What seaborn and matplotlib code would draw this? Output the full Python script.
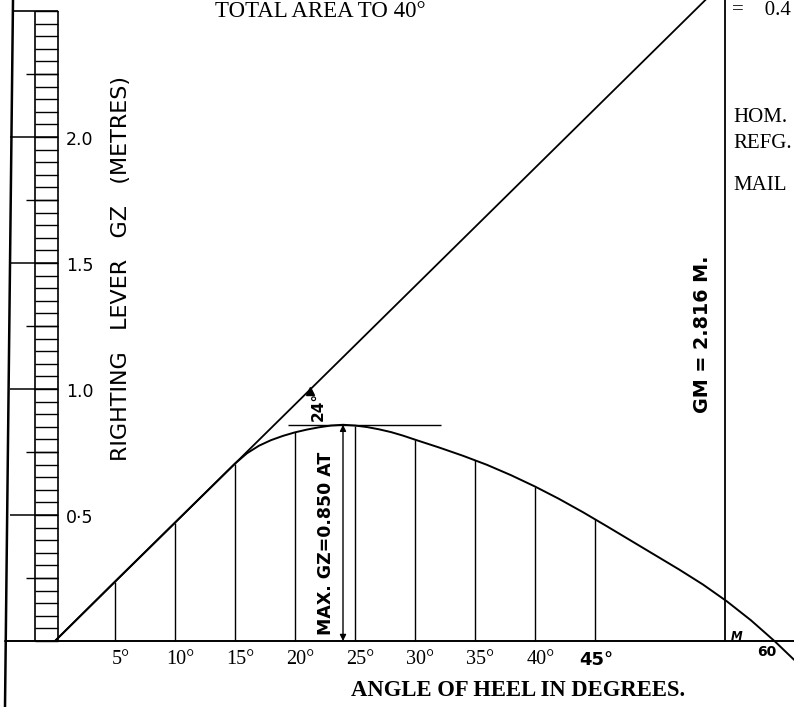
import numpy as np
import pandas as pd
import matplotlib
matplotlib.use("Agg")
import matplotlib.pyplot as plt
import seaborn as sns
from matplotlib import font_manager

# ---------------- data ----------------
heel_angles = [0, 5, 10, 15, 16, 17, 18, 19, 20, 21, 22, 23, 24, 25, 26, 27,
               28, 29, 30, 32, 34, 36, 38, 40, 42, 44, 46, 48, 50, 52, 54, 56,
               58, 60, 61.6]
gz_values = [0.0, 0.236, 0.470, 0.704, 0.745, 0.775, 0.797, 0.814, 0.828,
             0.839, 0.848, 0.855, 0.858, 0.855, 0.849, 0.840, 0.829, 0.815,
             0.799, 0.768, 0.735, 0.699, 0.658, 0.613, 0.564, 0.511, 0.455,
             0.398, 0.341, 0.284, 0.224, 0.157, 0.082, -0.002, -0.075]

ordinate_angles = [5, 10, 15, 20, 25, 30, 35, 40, 45]
ordinate_gz = [0.236, 0.470, 0.704, 0.828, 0.855, 0.799, 0.717, 0.613, 0.483]

tangent_angles = [0, 60]
tangent_gz = [0.0, 2.816]

gm_angle = 55.8          # ordinate "M" carrying GM
max_angle = 24
max_gz = 0.858
max_line_angles = [19.4, 32.2]

xtick_values = [5, 10, 15, 20, 25, 30, 35, 40]
xtick_labels = ["5°", "10°", "15°", "20°", "25°", "30°", "35°", "40°"]
ytick_values = [0.5, 1.0, 1.5, 2.0]
ytick_labels = ["0·5", "1.0", "1.5", "2.0"]
scale_top = 2.5

# ---------------- figure ----------------
sns.set_theme(style="white")
names = {f.name for f in font_manager.fontManager.ttflist}
narrow = "Liberation Sans Narrow" if "Liberation Sans Narrow" in names else "DejaVu Sans"
plt.rcParams["font.family"] = ["DejaVu Sans"]

W, H = 794, 707
fig = plt.figure(figsize=(W / 100, H / 100), dpi=100)
fig.patch.set_facecolor("white")
ax = fig.add_axes([0, 0, 1, 1])
ax.set_facecolor("white")
X0, PXD, Y0, PYM = 55, 12.0, 641, 252.0
ax.set_xlim(-X0 / PXD, (W - X0) / PXD)
ax.set_ylim(-(H - Y0) / PYM, Y0 / PYM)
ax.axis("off")


def px(x):
    return (x - X0) / PXD


def py(y):
    return (Y0 - y) / PYM


K = "black"
curve = pd.DataFrame({"angle": heel_angles, "gz": gz_values})
tang = pd.DataFrame({"angle": tangent_angles, "gz": tangent_gz})
sns.lineplot(data=curve, x="angle", y="gz", ax=ax, color=K, lw=1.4,
             estimator=None, sort=False)
sns.lineplot(data=tang, x="angle", y="gz", ax=ax, color=K, lw=1.3,
             estimator=None, sort=False)

# ordinates
ax.vlines(ordinate_angles, 0, ordinate_gz, color=K, lw=1.0)
# GM ordinate to top
ax.vlines([gm_angle], 0, py(0), color=K, lw=1.3)
# horizontal tangent at maximum
ax.hlines([max_gz], max_line_angles[0], max_line_angles[1], color=K, lw=1.0)
# arrow for max GZ
ax.annotate("", xy=(max_angle, max_gz), xytext=(max_angle, 0),
            arrowprops=dict(arrowstyle="<|-|>", color=K, lw=1.0,
                            mutation_scale=9, shrinkA=0, shrinkB=0))
ax.plot([px(310)], [py(391)], marker="^", ms=6, color=K)

# baseline and left border
ax.plot([px(5), px(W)], [0, 0], color=K, lw=1.4)
ax.plot([px(13), px(5)], [py(0), py(H)], color=K, lw=1.8)

# vertical scale (ladder)
lx, rx = px(35), px(58)
rungs = np.arange(0, scale_top + 1e-6, 0.05)
ax.hlines(rungs, lx, rx, color=K, lw=1.0)
ax.vlines([lx, rx], 0, scale_top, color=K, lw=1.2)
ax.hlines([scale_top], px(12), rx, color=K, lw=1.2)
ax.hlines(ytick_values, px(10), rx, color=K, lw=1.1)
ax.hlines(np.array(ytick_values) - 0.25, px(26), rx, color=K, lw=1.0)
ax.hlines([scale_top - 0.25], px(26), rx, color=K, lw=1.0)

for v, lab in zip(ytick_values, ytick_labels):
    ax.text(px(66), v - 0.01, lab, fontsize=12.5, ha="left", va="center",
            color=K, fontweight="medium")

serif = ["Liberation Serif", "DejaVu Serif"]
for v, lab in zip(xtick_values, xtick_labels):
    ax.text(v + 0.45, py(659), lab, fontsize=14.5, ha="center", va="center",
            family=serif, color=K)
ax.text(45 + 0.1, py(660), "45°", fontsize=13, ha="center", va="center",
        fontweight="bold", color=K)
ax.text(px(767), py(652), "60", fontsize=10, ha="center", va="center",
        fontweight="bold", color=K)
ax.text(px(737), py(636), "M", fontsize=8.5, ha="center", va="center",
        style="italic", fontweight="bold", color=K)

ax.text(px(518), py(690), "ANGLE OF HEEL IN DEGREES.", fontsize=16.3,
        ha="center", va="center", family=serif, fontweight="bold", color=K)
ax.text(px(215), py(11.5), "TOTAL AREA TO 40°", fontsize=16.5, ha="left",
        va="center", family=serif, color=K)
ax.text(px(732), py(11), "=    0.4", fontsize=15, ha="left", va="center",
        family=serif, color=K)
for lab, yy in [("HOM.", 118), ("REFG.", 144), ("MAIL", 186)]:
    ax.text(px(733), py(yy), lab, fontsize=15, ha="left", va="center",
            family=serif, color=K)

ax.text(px(121), py(269), "RIGHTING   LEVER   GZ   (METRES)", fontsize=16,
        rotation=90, ha="center", va="center", color=K)
ax.text(px(326), py(543), "MAX. GZ=0.850 AT", fontsize=12.5, rotation=90,
        ha="center", va="center", fontweight="bold", family=[narrow, "DejaVu Sans"],
        color=K)
ax.text(px(703), py(334), "GM = 2.816 M.", fontsize=13.8, rotation=90,
        ha="center", va="center", fontweight="bold", family=[narrow, "DejaVu Sans"],
        color=K)
ax.text(px(318), py(406), "24°", fontsize=11, rotation=90, ha="center",
        va="center", fontweight="bold", color=K)

fig.savefig("out.png", dpi=100, facecolor="white")
